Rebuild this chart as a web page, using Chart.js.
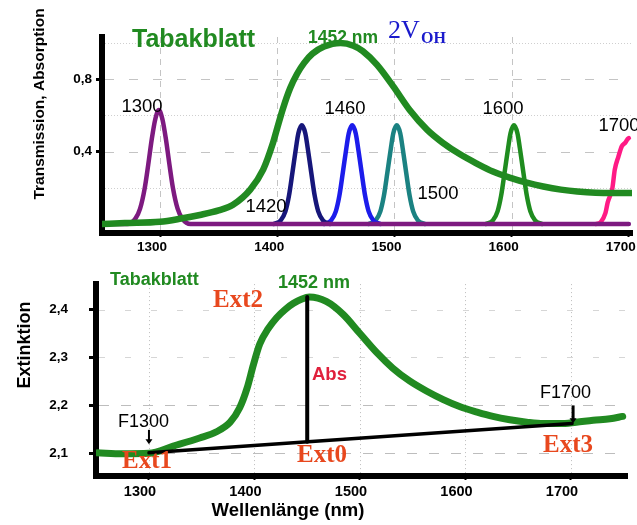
<!DOCTYPE html>
<html>
<head>
<meta charset="utf-8">
<script src="https://cdn.jsdelivr.net/npm/chart.js@4.4.1/dist/chart.umd.min.js"></script>
<style>
  html, body { margin: 0; padding: 0; background: #fff; }
  #wrap { position: relative; width: 637px; height: 525px; overflow: hidden; }
  #topChart { position: absolute; left: 0; top: 0; }
  #bottomChart { position: absolute; left: 0; top: 255px; }
</style>
</head>
<body>
<div id="wrap">
  <canvas id="topChart" width="660" height="255"></canvas>
  <canvas id="bottomChart" width="637" height="270"></canvas>
</div>
<script>
// ---------- top panel: leaf spectrum + filter transmission ----------
const leafNm = [1250, 1270, 1300, 1318, 1334, 1350, 1362, 1377, 1388, 1396, 1400, 1405, 1411, 1417, 1423, 1430, 1440, 1454, 1465, 1473, 1485, 1499, 1513, 1528, 1541, 1556, 1570, 1584, 1599, 1613, 1627, 1642, 1656, 1684, 1702]
const leafAbs = [0.0, 0.005, 0.012, 0.03, 0.05, 0.075, 0.105, 0.19, 0.30, 0.44, 0.53, 0.64, 0.75, 0.83, 0.89, 0.94, 0.98, 1.0, 0.985, 0.955, 0.88, 0.76, 0.63, 0.52, 0.45, 0.385, 0.335, 0.29, 0.255, 0.228, 0.207, 0.19, 0.18, 0.171, 0.171]

// filter curves (1300 one also carries the base line)
const f1300Nm = [1250, 1272, 1279, 1283, 1287, 1290, 1293, 1296, 1299, 1302, 1305, 1308, 1311, 1315, 1319, 1326, 1700]
const f1300T = [0, 0, 0.03, 0.085, 0.2, 0.33, 0.47, 0.58, 0.63, 0.58, 0.47, 0.33, 0.2, 0.085, 0.03, 0, 0]
const f1420Nm = [1397, 1403, 1407, 1410, 1413, 1416, 1418, 1421, 1424, 1426, 1429, 1432, 1435, 1439, 1445]
const f1460Nm = [1440, 1446, 1450, 1453, 1456, 1459, 1461, 1464, 1467, 1469, 1472, 1475, 1478, 1482, 1488]
const f1500Nm = [1478, 1484, 1488, 1491, 1494, 1497, 1499, 1502, 1505, 1507, 1510, 1513, 1516, 1520, 1526]
const f1600Nm = [1578, 1584, 1588, 1591, 1594, 1597, 1599, 1602, 1605, 1607, 1610, 1613, 1616, 1620, 1626]
const f1420T = [0, 0.02, 0.07, 0.155, 0.285, 0.42, 0.50, 0.545, 0.50, 0.42, 0.285, 0.155, 0.07, 0.02, 0]
const f1460T = [0, 0.02, 0.07, 0.155, 0.285, 0.42, 0.50, 0.545, 0.50, 0.42, 0.285, 0.155, 0.07, 0.02, 0]
const f1500T = [0, 0.02, 0.07, 0.155, 0.285, 0.42, 0.50, 0.545, 0.50, 0.42, 0.285, 0.155, 0.07, 0.02, 0]
const f1600T = [0, 0.02, 0.07, 0.155, 0.285, 0.42, 0.50, 0.545, 0.50, 0.42, 0.285, 0.155, 0.07, 0.02, 0]
const f1700Nm = [1672, 1676, 1680, 1682, 1686, 1688, 1691, 1694, 1697, 1699, 1700]
const f1700T = [0, 0.01, 0.06, 0.12, 0.2, 0.3, 0.37, 0.43, 0.45, 0.47, 0.475]

const topXTicks = [1300, 1400, 1500, 1600, 1700]
const topYTicks = [0.4, 0.8]

// ---------- bottom panel: extinction ----------
const extNm = [1251, 1275, 1300, 1323, 1348, 1364, 1377, 1386, 1393, 1399, 1405, 1413, 1421, 1429, 1437, 1445, 1452, 1468, 1484, 1500, 1516, 1531, 1547, 1563, 1579, 1595, 1611, 1626, 1642, 1658, 1674, 1690, 1705, 1721, 1737, 1749]
const extVal = [2.101, 2.099, 2.100, 2.115, 2.132, 2.145, 2.165, 2.195, 2.236, 2.285, 2.328, 2.36, 2.383, 2.40, 2.413, 2.422, 2.426, 2.417, 2.39, 2.35, 2.31, 2.278, 2.251, 2.23, 2.212, 2.197, 2.186, 2.177, 2.17, 2.165, 2.162, 2.162, 2.165, 2.169, 2.172, 2.177]
const baseNm = [1300, 1701]
const baseVal = [2.101, 2.162]
const absNm = [1450, 1450]
const absVal = [2.426, 2.124]
const markerNm = [1300, 1702]
const markerFrom = [2.149, 2.2]
const markerTo = [2.119, 2.163]

const botXTicks = [1300, 1400, 1500, 1600, 1700]
const botYTicks = [2.1, 2.2, 2.3, 2.4]

const GREEN = '#218a21'
const SANS = '"Liberation Sans", Arial, sans-serif'
const SERIF = '"Liberation Serif", "Times New Roman", serif'
const EXT = '#e8481e'

function comma(v) {
  return v.toFixed(1).replace('.', ',')
}

function series(xs, ys, color, width, straight) {
  return {
    data: xs.map((x, i) => ({ x, y: ys[i] })),
    borderColor: color,
    borderWidth: width,
    pointRadius: 0,
    fill: false,
    tension: 0,
    cubicInterpolationMode: straight ? 'default' : 'monotone',
    borderCapStyle: 'round',
    borderJoinStyle: 'round'
  }
}

function gridPlugin(specs) {
  return {
    id: 'refGrid',
    beforeDatasetsDraw(chart) {
      const { ctx, chartArea: a, scales: { x, y } } = chart
      ctx.save()
      ctx.lineWidth = 1
      specs.forEach(s => {
        ctx.strokeStyle = s.color
        ctx.setLineDash(s.dash)
        s.values.forEach(v => {
          ctx.beginPath()
          if (s.axis === 'x') {
            const px = Math.round(x.getPixelForValue(v)) + 0.5
            ctx.moveTo(px, a.top)
            ctx.lineTo(px, a.bottom - 3)
          } else {
            const py = Math.round(y.getPixelForValue(v)) + 0.5
            ctx.moveTo(a.left + 3, py)
            ctx.lineTo(a.right, py)
          }
          ctx.stroke()
        })
      })
      ctx.restore()
    }
  }
}

function textPlugin(items) {
  return {
    id: 'refText',
    afterDraw(chart) {
      const ctx = chart.ctx
      items.forEach(t => {
        ctx.save()
        ctx.font = t.font
        ctx.fillStyle = t.color || '#000'
        ctx.textAlign = t.align || 'left'
        ctx.textBaseline = 'alphabetic'
        ctx.translate(t.x, t.y)
        if (t.rotate) ctx.rotate(t.rotate)
        ctx.fillText(t.text, 0, 0)
        ctx.restore()
      })
    }
  }
}

const arrowPlugin = {
  id: 'arrows',
  afterDatasetsDraw(chart) {
    const { ctx, scales: { x, y } } = chart
    ctx.save()
    ctx.strokeStyle = '#000'
    ctx.fillStyle = '#000'
    markerNm.forEach((nm, i) => {
      const px = x.getPixelForValue(nm)
      const y0 = y.getPixelForValue(markerFrom[i])
      const y1 = y.getPixelForValue(markerTo[i])
      ctx.lineWidth = i === 0 ? 2 : 3
      ctx.beginPath()
      ctx.moveTo(px, y0)
      ctx.lineTo(px, y1 - 4)
      ctx.stroke()
      ctx.beginPath()
      ctx.moveTo(px - 3.5, y1 - 5)
      ctx.lineTo(px + 3.5, y1 - 5)
      ctx.lineTo(px, y1)
      ctx.closePath()
      ctx.fill()
    })
    ctx.restore()
  }
}

function axisCommon(tickLen, tickW, pad, size, offset, ticksArr, fmt) {
  return {
    type: 'linear',
    afterBuildTicks: s => { s.ticks = ticksArr.map(v => ({ value: v })) },
    border: { display: true, color: '#000', width: 6 },
    grid: { drawOnChartArea: false, drawTicks: true, tickLength: tickLen, tickWidth: tickW, tickColor: '#000' },
    ticks: {
      padding: pad,
      labelOffset: offset,
      color: '#000',
      autoSkip: false,
      maxRotation: 0,
      font: { family: SANS, size: size, weight: 'bold' },
      callback: v => fmt(v)
    }
  }
}

// ---------- top chart ----------
const topX = axisCommon(4, 2, 2.5, 13.5, -8, topXTicks, v => String(v))
topX.min = 1250.5
topX.max = 1702.7
topX.afterFit = s => { s.height = 22 }
const topY = axisCommon(6, 3, 4, 13.5, 0, topYTicks, comma)
topY.min = -0.0497
topY.max = 1.033
topY.afterFit = s => { s.width = 102 }

const topLabel = (text, x, y) => ({ text, x, y, align: 'center', font: '18.5px ' + SANS })

new Chart(document.getElementById('topChart'), {
  type: 'line',
  data: {
    datasets: [
      series(leafNm, leafAbs, GREEN, 6.5),
      series(f1300Nm, f1300T, '#7d1a80', 4.5),
      series(f1420Nm, f1420T, '#16167a', 4.5),
      series(f1460Nm, f1460T, '#1c1ceb', 4.5),
      series(f1500Nm, f1500T, '#1b8282', 4.5),
      series(f1600Nm, f1600T, '#1f8c1f', 4.5),
      series(f1700Nm, f1700T, '#ff1a85', 4.5)
    ]
  },
  options: {
    responsive: false,
    animation: false,
    events: [],
    layout: { padding: { top: 37, left: 0, right: 28, bottom: 0 } },
    plugins: { legend: { display: false }, tooltip: { enabled: false } },
    scales: { x: topX, y: topY }
  },
  plugins: [
    gridPlugin([
      { axis: 'x', values: [1300, 1400, 1500, 1600], dash: [6, 5], color: '#c4c4c4' },
      { axis: 'y', values: [0.4, 0.8], dash: [9, 15], color: '#c4c4c4' },
      { axis: 'y', values: [0.2, 0.6, 1.0], dash: [1, 2], color: '#cfcfcf' }
    ]),
    textPlugin([
      { text: 'Tabakblatt', x: 132, y: 47, font: 'bold 25px ' + SANS, color: GREEN },
      { text: '1452 nm', x: 308, y: 43, font: 'bold 17.5px ' + SANS, color: GREEN },
      { text: '2V', x: 388, y: 38, font: '26px ' + SERIF, color: '#1a1acc' },
      { text: 'OH', x: 421, y: 43, font: 'bold 16px ' + SERIF, color: '#1a1acc' },
      topLabel('1300', 142, 112),
      topLabel('1420', 266, 212),
      topLabel('1460', 345, 113.5),
      topLabel('1500', 438, 198.5),
      topLabel('1600', 503, 113.5),
      topLabel('1700', 619, 131),
      { text: 'Transmission, Absorption', x: 44, y: 104, align: 'center', rotate: -Math.PI / 2, font: 'bold 15.5px ' + SANS }
    ])
  ]
})

// ---------- bottom chart ----------
const botX = axisCommon(4, 2, 3.3, 14.5, -9, botXTicks, v => String(v))
botX.min = 1249.8
botX.max = 1753.1
botX.afterFit = s => { s.height = 49 }
const botY = axisCommon(7, 3, 21, 13.5, 0, botYTicks, comma)
botY.min = 2.0527
botY.max = 2.4531
botY.afterFit = s => { s.width = 96 }

new Chart(document.getElementById('bottomChart'), {
  type: 'line',
  data: {
    datasets: [
      series(absNm, absVal, '#000', 4, true),
      series(baseNm, baseVal, '#000', 3.5, true),
      series(extNm, extVal, GREEN, 7)
    ]
  },
  options: {
    responsive: false,
    animation: false,
    events: [],
    layout: { padding: { top: 22, left: 0, right: 10, bottom: 0 } },
    plugins: { legend: { display: false }, tooltip: { enabled: false } },
    scales: { x: botX, y: botY }
  },
  plugins: [
    gridPlugin([
      { axis: 'x', values: [1300, 1400, 1500, 1600, 1700], dash: [1, 3], color: '#bdbdbd' },
      { axis: 'y', values: [2.1, 2.2], dash: [10, 12], color: '#bdbdbd' },
      { axis: 'y', values: [2.3, 2.4], dash: [6, 20], color: '#d6d6d6' }
    ]),
    arrowPlugin,
    textPlugin([
      { text: 'Tabakblatt', x: 110, y: 30, font: 'bold 18px ' + SANS, color: GREEN },
      { text: '1452 nm', x: 278, y: 32.5, font: 'bold 18px ' + SANS, color: GREEN },
      { text: 'Ext2', x: 213, y: 52, font: 'bold 25px ' + SERIF, color: EXT },
      { text: 'Abs', x: 312, y: 125, font: 'bold 18.5px ' + SANS, color: '#e0203c' },
      { text: 'F1300', x: 118, y: 172, font: '18px ' + SANS },
      { text: 'Ext1', x: 122, y: 213, font: 'bold 25px ' + SERIF, color: EXT },
      { text: 'Ext0', x: 297, y: 207, font: 'bold 25px ' + SERIF, color: EXT },
      { text: 'Ext3', x: 543, y: 197, font: 'bold 25px ' + SERIF, color: EXT },
      { text: 'F1700', x: 540, y: 143, font: '18px ' + SANS },
      { text: 'Extinktion', x: 29.5, y: 90, align: 'center', rotate: -Math.PI / 2, font: 'bold 18px ' + SANS },
      { text: 'Wellenlänge (nm)', x: 288, y: 261, align: 'center', font: 'bold 18.5px ' + SANS }
    ])
  ]
})
</script>
</body>
</html>
